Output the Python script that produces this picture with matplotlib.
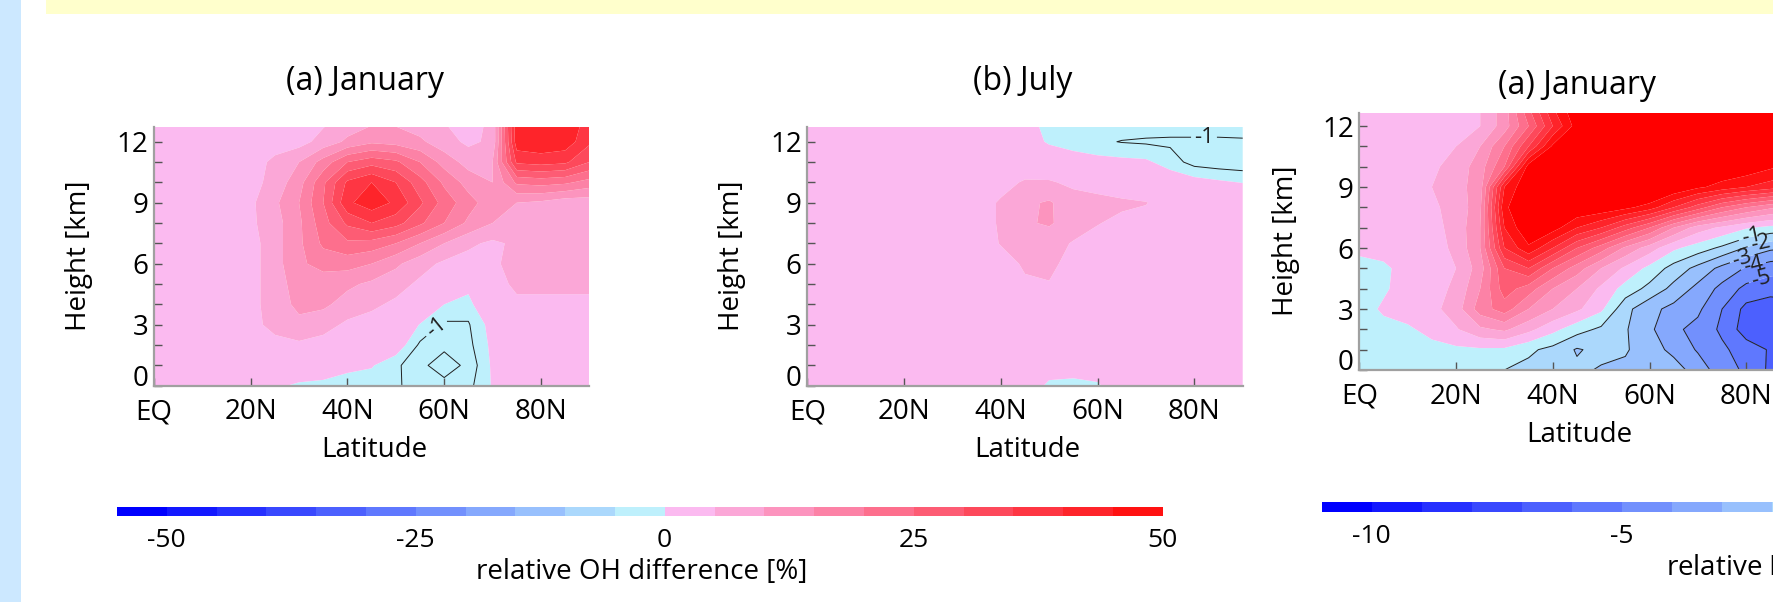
import numpy as np
import matplotlib
matplotlib.use("Agg")
import matplotlib.pyplot as plt
from matplotlib.colors import ListedColormap, BoundaryNorm
from matplotlib.patches import Rectangle
from matplotlib.transforms import ScaledTranslation

plt.rcParams['font.family'] = ['Open Sans', 'DejaVu Sans']

W, H, DPI = 1773, 602, 100

# ---------------- data ----------------
lat = np.arange(0, 91, 5)          # latitude [deg N]
height = np.arange(0, 14, 1)       # height [km]

# relative OH difference [%], January (rows: height, cols: latitude)
oh_jan = [
    [2, 2, 2, 2, 2, 0.3, -0.3, -0.4, -0.5, -0.6, -0.9, -1.3, -1.6, -1.3, 0.1, 2, 2, 2, 2],
    [2, 2, 2, 2, 2, 2, 1.5, 1.0, 0.3, 0.1, -0.8, -1.7, -2.6, -1.7, 0.2, 2, 2, 2, 2],
    [2, 2, 2, 2, 2, 3, 4, 3, 2.5, 2, 0.8, -1.2, -1.7, -1.3, 0.3, 2, 2, 2, 2],
    [2, 2, 2, 2, 3, 7, 9, 7, 4, 3, 2, -0.1, -1.2, -1.1, 0.5, 2, 3, 3, 3],
    [2, 2, 2, 2, 3, 8, 11, 11, 8, 6, 4, 2, 0, -0.5, 2, 4, 4, 4, 4],
    [2, 2, 2, 2, 3, 8, 12, 12, 11, 9, 7, 4, 2, 0.5, 3, 6, 6, 6, 6],
    [2, 2, 2, 2, 3, 8, 14, 17, 17, 15, 11, 7, 4, 3, 4, 7, 7, 7, 7],
    [2, 2, 2, 2, 3, 8, 14, 21, 24, 23, 20, 15, 10, 6, 4, 6, 7, 7, 8],
    [2, 2, 2, 2, 4, 8, 14, 23, 31, 35, 32, 26, 20, 14, 10, 8, 7, 7, 8],
    [2, 2, 2, 2, 4, 9, 15, 25, 39, 43, 39, 31, 23, 17, 12, 10, 9, 7, 7],
    [2, 2, 2, 2, 3, 7, 13, 24, 36, 40, 35, 27, 19, 13, 10, 21, 22, 21, 18],
    [2, 2, 2, 2, 3, 6, 10, 17, 25, 28, 26, 20, 13, 8, 10, 36, 37, 36, 30],
    [2, 2, 2, 2, 2, 3, 3, 7, 11, 14, 13, 11, 7, 4, 6, 43, 44, 43, 36],
    [2, 2, 2, 2, 2, 2, 3, 4, 7, 9, 9, 7, 5, 3, 6, 44, 45, 44, 38],
]

# relative OH difference [%], July
oh_jul = [
    [2, 2, 2, 2, 2, 2, 2, 2, 2, 1, -0.3, -0.4, -0.2, 1, 2, 2, 2, 2, 2],
    [2, 2, 2, 2, 2, 2, 2, 2, 2, 1.5, 0.8, 0.7, 0.9, 1.5, 2, 2, 2, 2, 2],
    [2, 2, 2, 2, 2, 2, 2, 2, 2, 2, 2, 2, 2, 2, 2, 2, 2, 2, 2],
    [2, 2, 2, 2, 2, 2, 2, 2, 2, 2, 2, 2, 2, 2, 2, 2, 2, 2, 2],
    [2, 2, 2, 2, 2, 2, 2, 2, 2, 2.5, 2.5, 2.5, 2, 2, 2, 2, 2, 2, 2],
    [2, 2, 2, 2, 2, 2, 2, 2, 3, 4.5, 4.8, 3.5, 3, 2.5, 2, 2, 2, 2, 2],
    [2, 2, 2, 2, 2, 2, 2, 2.5, 3.5, 5.5, 6, 3.5, 3, 2.5, 2, 2, 2, 2, 2],
    [2, 2, 2, 2, 2, 2, 2, 3, 5.2, 7, 7, 4.6, 3.5, 3, 2.5, 2, 2, 2, 2],
    [2, 2, 2, 2, 2, 2, 2, 3, 5.5, 9.4, 10.6, 7.5, 5.2, 4, 3.5, 3, 2.5, 2, 2],
    [2, 2, 2, 2, 2, 2, 2, 3, 5.5, 9.0, 10.6, 7, 6.5, 5.8, 5.2, 3, 2.5, 2, 1.5],
    [2, 2, 2, 2, 2, 2, 2, 2.5, 3.5, 5.5, 5.5, 4, 3, 2, 1.2, 0.8, 0.5, 0.2, -0.05],
    [2, 2, 2, 2, 2, 2, 2, 2, 2, 2, 1.2, 0.6, 0.4, 0.3, 0.2, -0.5, -1.4, -1.6, -1.7],
    [2, 2, 2, 2, 2, 2, 2, 2, 2, 0.8, -0.2, -0.5, -0.8, -1.05, -1.15, -1.2, -1.2, -1.2, -1.15],
    [2, 2, 2, 2, 2, 2, 2, 2, 2, 0.3, -0.3, -0.3, -0.3, -0.3, -0.3, -0.3, -0.3, -0.3, -0.3],
]

# second quantity, January (relative difference [%])
x_jan = [
    [-0.3, -0.4, -0.4, -0.5, -0.6, -0.7, -1.0, -1.3, -1.6, -1.8, -2.1, -2.2, -2.3, -2.5, -3.5, -4.5, -5.2, -6.2, -6.0],
    [-0.4, -0.4, -0.3, -0.2, -0.2, -0.15, -0.2, -0.8, -1.3, -2.1, -1.7, -1.9, -2.5, -3.3, -4.1, -4.8, -5.5, -6.1, -6.0],
    [-0.3, -0.2, -0.1, 0.2, 0.9, 1.8, 2.2, 1.3, 0.3, -0.6, -1.2, -1.9, -2.8, -3.8, -4.3, -5.2, -6.5, -6.7, -6.5],
    [-0.3, 0.1, 0.3, 0.7, 1.5, 3.5, 4.5, 3.0, 2.0, 1.2, 0.2, -1.7, -2.7, -3.3, -3.8, -5.0, -6.3, -6.6, -6.4],
    [-0.4, -0.1, 0.3, 0.6, 1.2, 3.0, 5.5, 4.5, 3.0, 2.0, 0.8, -0.4, -1.3, -2.3, -3.3, -4.3, -5.3, -5.6, -5.6],
    [-0.3, -0.1, 0.2, 0.5, 1.0, 2.5, 6.0, 7.0, 5.0, 3.5, 2.0, 0.8, -0.3, -1.4, -2.3, -3.3, -4.1, -4.6, -4.8],
    [0.2, 0.2, 0.3, 0.6, 1.2, 3.0, 8.0, 9.8, 8.0, 6.0, 4.5, 2.8, 1.5, 0.2, -0.5, -1.2, -2.1, -2.8, -3.0],
    [0.2, 0.3, 0.4, 0.7, 1.3, 3.0, 9.0, 11.0, 10.5, 9.0, 8.0, 6.5, 5.0, 3.0, 1.5, 0.8, 0.1, -0.3, -0.5],
    [0.3, 0.3, 0.5, 0.9, 1.2, 2.8, 9.8, 11.0, 11.5, 11.0, 10.8, 10.3, 9.5, 8.0, 6.5, 5.0, 4.0, 3.2, 3.0],
    [0.3, 0.3, 0.6, 1.0, 1.6, 2.5, 9.0, 11.0, 12.0, 12.0, 12.0, 12.0, 12.0, 11.0, 10.2, 9.6, 9.0, 8.5, 8.0],
    [0.3, 0.3, 0.5, 0.8, 1.4, 2.5, 5.0, 10.5, 12.0, 12.0, 12.0, 12.0, 12.0, 12.0, 12.0, 11.0, 10.8, 10.2, 9.6],
    [0.3, 0.3, 0.4, 0.6, 1.0, 2.0, 4.0, 7.0, 10.2, 12.0, 12.0, 12.0, 12.0, 12.0, 12.0, 12.0, 12.0, 12.0, 12.0],
    [0.3, 0.3, 0.4, 0.5, 0.6, 1.0, 2.5, 5.0, 8.0, 10.5, 12.0, 12.0, 12.0, 12.0, 12.0, 12.0, 12.0, 12.0, 12.0],
    [0.3, 0.3, 0.4, 0.5, 0.7, 1.0, 2.5, 6.0, 9.0, 11.0, 12.0, 12.0, 12.0, 12.0, 12.0, 12.0, 12.0, 12.0, 12.0],
]

oh_levels = np.arange(-55, 51, 5)
x_levels = np.arange(-11, 11, 1)
line_levels = np.arange(-11, 0, 1)
lat_ticks = [0, 20, 40, 60, 80]
lat_ticklabels = ["EQ", "20N", "40N", "60N", "80N"]
oh_cbar_ticks = [-50, -25, 0, 25, 50]
x_cbar_ticks = [-10, -5]

# 11 blues (negative) + 10 pinks/reds (positive)
palette = [
    "#0000ff", "#1318ff", "#2630ff", "#3948fe", "#4c60fe", "#5f78fe",
    "#7290fd", "#85a8fd", "#98c0fd", "#abd8fc", "#bef0fc",
    "#fbbaf0", "#fba7d7", "#fc94be", "#fc82a6", "#fd6f8d",
    "#fd5c74", "#fd495b", "#fe3643", "#fe242a", "#ff1111",
]
cmap = ListedColormap(palette).with_extremes(over="#ff0000", under="#0000ff")
oh_norm = BoundaryNorm(oh_levels, cmap.N)
x_norm = BoundaryNorm(x_levels, cmap.N)

# ---------------- figure ----------------
fig = plt.figure(figsize=(W / DPI, H / DPI), dpi=DPI)
fig.patch.set_facecolor("white")


def rect(x0, y0, x1, y1):
    return [x0 / W, 1 - y1 / H, (x1 - x0) / W, (y1 - y0) / H]


def fx(x):
    return x / W


def fy(y):
    return 1 - y / H


# poster background elements
fig.patches.append(Rectangle((0, 0), fx(21), 1, transform=fig.transFigure,
                             facecolor="#cce8ff", edgecolor="none", zorder=0))
fig.patches.append(Rectangle((fx(46), fy(13.5)), 1, 1, transform=fig.transFigure,
                             facecolor="#ffffcc", edgecolor="none", zorder=0))

LON, Z = np.meshgrid(lat, height)
KM_PX = 20.33


def panel(box, field, levels, norm, extend, label_pts):
    x0, y0, x1, y1 = box
    ax = fig.add_axes(rect(x0, y0, x1, y1))
    data = np.array(field, dtype=float)
    ax.contourf(LON, Z, data, levels=levels, cmap=cmap, norm=norm,
                extend=extend, antialiased=True)
    cs = ax.contour(LON, Z, data, levels=line_levels, colors="#202020",
                    linewidths=0.7, linestyles="solid")
    if label_pts:
        ax.clabel(cs, inline=True, fontsize=16, fmt=lambda v: f"{v:.0f}",
                  manual=label_pts, inline_spacing=3)
    ax.set_xlim(0, 90)
    ax.set_ylim(0, (y1 - y0) / KM_PX)
    for s in ("top", "right"):
        ax.spines[s].set_visible(False)
    for s in ("left", "bottom"):
        ax.spines[s].set_color("#a0a0a0")
        ax.spines[s].set_linewidth(1.6)
        ax.spines[s].set_zorder(5)
    ax.set_xticks(lat_ticks)
    ax.set_xticklabels(lat_ticklabels)
    ax.set_yticks(range(0, 13))
    ax.set_yticklabels([str(v) if v % 3 == 0 else "" for v in range(0, 13)])
    ax.tick_params(axis="both", direction="in", length=6, width=1,
                   color="#555555", labelsize=20, labelcolor="black")
    ax.tick_params(axis="x", pad=9)
    ax.tick_params(axis="y", pad=4)
    zero = ax.yaxis.get_major_ticks()[0].label1
    zero.set_transform(zero.get_transform() +
                       ScaledTranslation(0, 0.10, fig.dpi_scale_trans))
    return ax


ax1 = panel((154, 127.3, 589.3, 385.7), oh_jan, oh_levels, oh_norm, "neither",
            [(57.5, 3.1)])
ax2 = panel((807.3, 127.3, 1242.7, 385.7), oh_jul, oh_levels, oh_norm, "neither",
            [(82, 12.2)])
ax3 = panel((1359.3, 112.7, 1794.6, 370.0), x_jan, x_levels, x_norm, "max",
            [(81, 6.6), (83, 6.1), (79, 5.6), (81.5, 5.1), (83.3, 4.3)])

# titles and axis labels
TXT = dict(ha="center", va="center", color="black")
fig.text(fx(365), fy(82), "(a) January", fontsize=23, **TXT)
fig.text(fx(1023), fy(82), "(b) July", fontsize=23, **TXT)
fig.text(fx(1577.5), fy(85), "(a) January", fontsize=23, **TXT)
fig.text(fx(374), fy(450), "Latitude", fontsize=20, **TXT)
fig.text(fx(1027), fy(450), "Latitude", fontsize=20, **TXT)
fig.text(fx(1579), fy(435), "Latitude", fontsize=20, **TXT)
fig.text(fx(79), fy(256), "Height [km]", fontsize=20, rotation=90, **TXT)
fig.text(fx(731.5), fy(256), "Height [km]", fontsize=20, rotation=90, **TXT)
fig.text(fx(1285.5), fy(241), "Height [km]", fontsize=20, rotation=90, **TXT)


# colour bars: one block per contour interval, drawn as an image strip
def cbar(box, levels, ticks):
    cax = fig.add_axes(rect(*box))
    n = len(levels) - 1
    cax.imshow(np.arange(n)[None, :], cmap=ListedColormap(palette[:n]),
               aspect="auto", interpolation="nearest",
               extent=(levels[0], levels[-1], 0, 1))
    cax.set_xlim(levels[0], levels[-1])
    cax.set_ylim(0, 1)
    cax.set_yticks([])
    cax.set_xticks(ticks)
    cax.set_xticklabels([str(t) for t in ticks])
    for s in cax.spines.values():
        s.set_visible(False)
    cax.tick_params(which="both", length=0, labelsize=19, pad=9)
    return cax


cbar((117, 506.7, 1162.3, 515.7), oh_levels, oh_cbar_ticks)
cbar((1321.7, 502.3, 2371.7, 511.7), x_levels, x_cbar_ticks)
fig.text(fx(642), fy(572), "relative OH difference [%]", fontsize=20, **TXT)
fig.text(fx(1666), fy(567), "relative HO$_2$ difference [%]", fontsize=20,
         ha="left", va="center")

fig.savefig("out.png", dpi=DPI)
